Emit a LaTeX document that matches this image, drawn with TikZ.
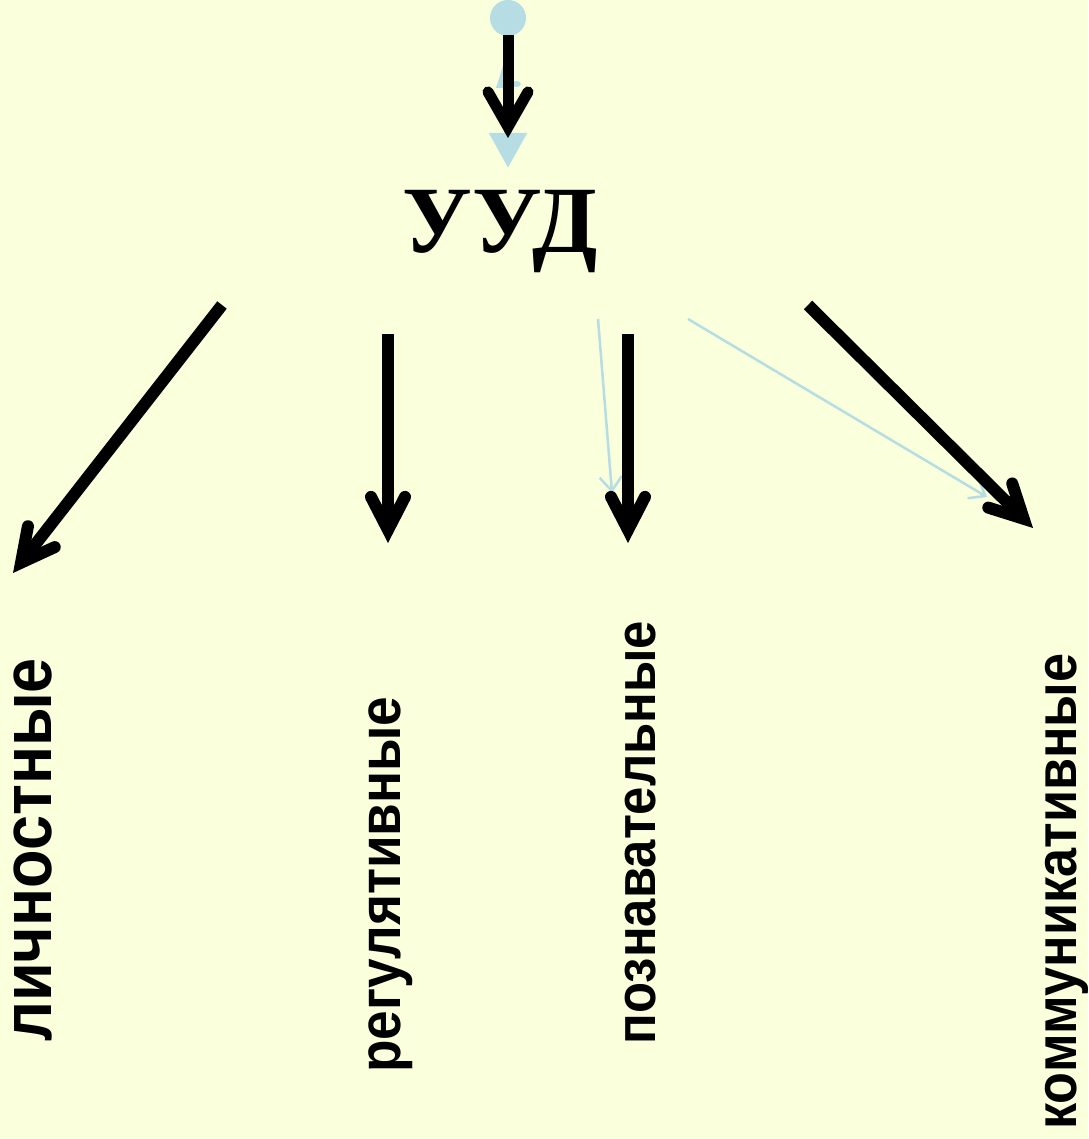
\documentclass[tikz,border=0pt]{standalone}
\usepackage{fontspec}
\setmainfont{Liberation Serif}
\newfontfamily\labfont[FakeStretch=0.9]{Liberation Sans}
\usetikzlibrary{arrows.meta}
\definecolor{bgyellow}{RGB}{250,255,220}
\definecolor{ltblue}{RGB}{181,221,227}
\begin{document}
\begin{tikzpicture}[x=1pt,y=-1pt,
  blackarrow/.style={draw=black, line width=12pt,
    -{Straight Barb[length=33pt,width=34pt,line cap=round,line join=miter]}},
  toparrow/.style={draw=black, line width=11pt,
    -{Straight Barb[length=35pt,width=40pt,line cap=round,line join=miter]}},
  thinblue/.style={draw=ltblue, line width=2.5pt,
    -{Straight Barb[length=14pt,width=22pt]}},
  lab/.style={rotate=90, anchor=base, inner sep=0pt, text=black,
    text height=0.56em, text depth=0.2em},
  labfont/.style={font=\labfont\bfseries\fontsize{#1}{#1}\selectfont}]
\fill[bgyellow] (0,0) rectangle (1088,1139);
\useasboundingbox (0,0) rectangle (1088,1139);

% start dot and light-blue connector
\node[circle, fill=ltblue, minimum size=36pt, inner sep=0pt] (start) at (508,18) {};
\coordinate (bluetip) at (508,168);
\draw[ltblue, line width=8pt, -{Triangle[length=35pt,width=36pt]}] (start.center) -- (bluetip);
\fill[ltblue] (496,88) -- (503,66) -- (508,66) -- (508,88) -- cycle;
\fill[ltblue] (516,84) ellipse (5pt and 3pt);

% top black arrow
\coordinate (t0) at (508,35);
\coordinate (t1) at (508,138);
\draw[toparrow] (t0) -- (t1);

% title
\node[anchor=base, inner sep=0pt, font=\bfseries\fontsize{95}{98}\selectfont] (uud) at (500.5,253) {УУД};

% arrow coordinates
\coordinate (a1s) at (222,305);  \coordinate (a1e) at (13,573);
\coordinate (a2s) at (388,334);  \coordinate (a2e) at (388,543);
\coordinate (a3s) at (628,334);  \coordinate (a3e) at (628,543);
\coordinate (a4s) at (808,305);  \coordinate (a4e) at (1033,528);
\coordinate (b1s) at (598,319);  \coordinate (b1e) at (612,493);
\coordinate (b2s) at (688,319);  \coordinate (b2e) at (987,497);

% light-blue thin arrows
\draw[thinblue] (b1s) -- (b1e);
\draw[thinblue] (b2s) -- (b2e);

% black arrows
\draw[blackarrow] (a1s) -- (a1e);
\draw[blackarrow] (a2s) -- (a2e);
\draw[blackarrow] (a3s) -- (a3e);
\draw[blackarrow] (a4s) -- (a4e);

% labels
\node[lab, labfont=70] (l1) at (51,850) {личностные};
\node[lab, labfont=59] (l2) at (400,884.5) {регулятивные};
\node[lab, labfont=56.5] (l3) at (655,832.5) {познавательные};
\node[lab, labfont=58] (l4) at (1076,891.5) {коммуникативные};
\end{tikzpicture}
\end{document}
